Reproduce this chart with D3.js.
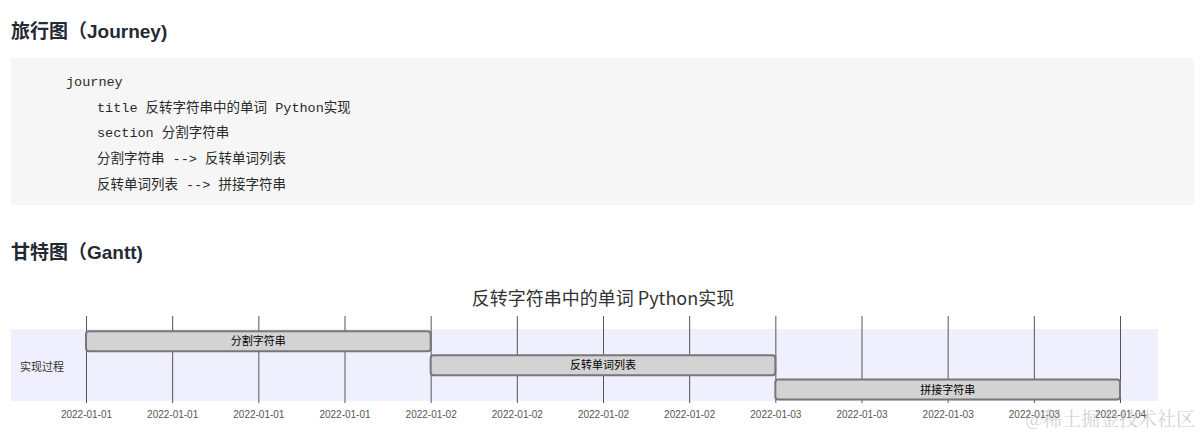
<!DOCTYPE html>
<html>
<head>
<meta charset="utf-8">
<script src="https://cdn.jsdelivr.net/npm/d3@7"></script>
<style>
  html, body { margin: 0; padding: 0; background: #fff; }
  svg { display: block; }
</style>
</head>
<body>
<svg id="chart" width="1200" height="435"></svg>
<script>
// ---- Data ----
const headings = ["旅行图（Journey)", "甘特图（Gantt)"];
const codeLines = [
  "journey",
  "title 反转字符串中的单词 Python实现",
  "section 分割字符串",
  "分割字符串 --> 反转单词列表",
  "反转单词列表 --> 拼接字符串"
];
const codeIndent = [0, 1, 1, 1, 1];
const ganttTitle = "反转字符串中的单词 Python实现";
const sectionName = "实现过程";
const taskNames = ["分割字符串", "反转单词列表", "拼接字符串"];
const taskStarts = ["2022-01-01", "2022-01-02", "2022-01-03"];
const taskEnds = ["2022-01-02", "2022-01-03", "2022-01-04"];
const watermark = "@稀土掘金技术社区";

const parse = d3.timeParse("%Y-%m-%d");
const tasks = taskNames.map((n, i) => ({ name: n, start: parse(taskStarts[i]), end: parse(taskEnds[i]) }));

const svg = d3.select("#chart");
const cjk = "'Noto Sans CJK SC', 'Noto Sans', sans-serif";

// Headings
svg.selectAll("text.heading").data(headings).join("text")
  .attr("class", "heading")
  .attr("x", 11)
  .attr("y", (d, i) => i === 0 ? 38 : 259)
  .attr("font-family", "Arial, 'Liberation Sans', " + cjk)
  .attr("font-weight", "bold")
  .attr("font-size", 19)
  .attr("fill", "#252933")
  .text(d => d);

// Code block
svg.append("rect").attr("x", 11).attr("y", 58).attr("width", 1183).attr("height", 147)
  .attr("fill", "#f6f6f6");
svg.selectAll("text.code").data(codeLines).join("text")
  .attr("class", "code")
  .attr("x", (d, i) => 66 + codeIndent[i] * 31)
  .attr("y", (d, i) => 86 + i * 25.7)
  .attr("font-family", "'Liberation Mono', 'Noto Sans CJK SC', monospace")
  .attr("font-size", 13.5)
  .attr("fill", "#2a2a2a")
  .text(d => d);

// Gantt
const x = d3.scaleTime()
  .domain([tasks[0].start, tasks[tasks.length - 1].end])
  .range([86, 1120]);
const y = d3.scaleBand().domain(taskNames).range([329, 401]).paddingInner(0.12).paddingOuter(0.05);

svg.append("text")
  .attr("x", 603).attr("y", 305)
  .attr("text-anchor", "middle")
  .attr("font-family", cjk)
  .attr("font-size", 18)
  .attr("fill", "#333")
  .text(ganttTitle);

// Section background
svg.append("rect").attr("x", 11).attr("y", 329).attr("width", 1147).attr("height", 72)
  .attr("fill", "#efeffd");

// Grid axis
const axis = d3.axisBottom(x)
  .ticks(d3.timeHour.every(6))
  .tickSize(-87)
  .tickSizeOuter(0)
  .tickPadding(8)
  .tickFormat(d3.timeFormat("%Y-%m-%d"));
const g = svg.append("g").attr("transform", "translate(0,403)").call(axis);
g.select(".domain").remove();
g.selectAll(".tick line").attr("stroke", "#555").attr("stroke-width", 1);
g.selectAll(".tick text")
  .attr("font-family", "Arial, 'Liberation Sans', sans-serif")
  .attr("font-size", 10)
  .attr("fill", "#555");

// Section label
svg.append("text")
  .attr("x", 20).attr("y", 371)
  .attr("font-family", cjk)
  .attr("font-size", 11)
  .attr("fill", "#333")
  .text(sectionName);

// Tasks
const bars = svg.append("g").selectAll("g").data(tasks).join("g");
bars.append("rect")
  .attr("x", d => x(d.start))
  .attr("y", d => y(d.name) + 1)
  .attr("width", d => x(d.end) - x(d.start))
  .attr("height", 20)
  .attr("rx", 3).attr("ry", 3)
  .attr("fill", "#d3d3d3")
  .attr("stroke", "#777")
  .attr("stroke-width", 2);
bars.append("text")
  .attr("x", d => (x(d.start) + x(d.end)) / 2)
  .attr("y", d => y(d.name) + 15)
  .attr("text-anchor", "middle")
  .attr("font-family", cjk)
  .attr("font-size", 11)
  .attr("fill", "#000")
  .text(d => d.name);

// Watermark (overlaps the last tick labels, as in the reference)
svg.append("text")
  .attr("x", 1195).attr("y", 426)
  .attr("text-anchor", "end")
  .attr("font-family", "'Noto Serif CJK SC', 'Noto Sans CJK SC', serif")
  .attr("font-size", 19)
  .attr("fill", "rgba(170,170,170,0.55)")
  .text(watermark);
</script>
</body>
</html>
